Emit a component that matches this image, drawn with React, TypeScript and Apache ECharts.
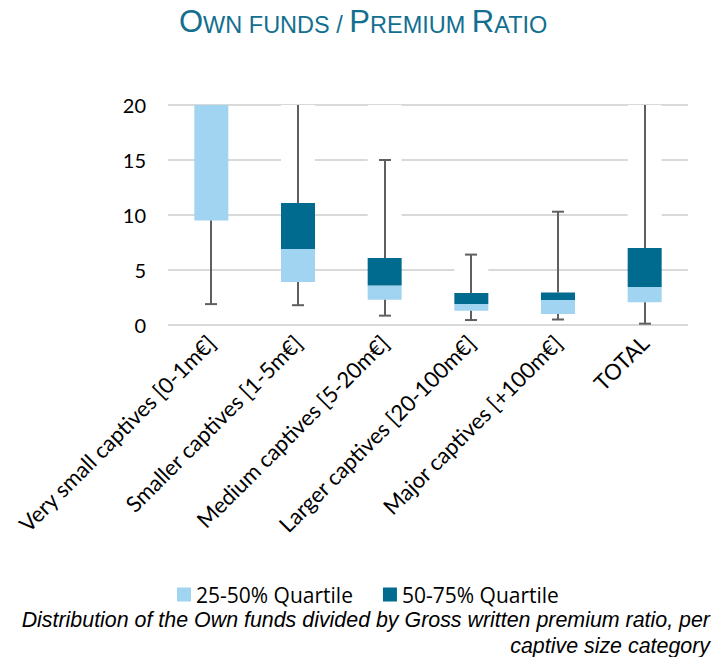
import React, { useEffect, useRef } from "react";
import * as echarts from "echarts";

const categories = [
  "Very small captives [0-1m€]",
  "Smaller captives [1-5m€]",
  "Medium captives [5-20m€]",
  "Larger captives [20-100m€]",
  "Major captives [+100m€]",
  "TOTAL",
];
const minValues = [1.9, 1.8, 0.85, 0.45, 0.5, 0.12];
const q1Values = [9.5, 3.9, 2.3, 1.3, 1.0, 2.06];
const medianValues = [20, 6.9, 3.6, 1.9, 2.27, 3.45];
const q3Values = [20, 11.1, 6.1, 2.9, 2.95, 7.0];
const maxValues = [20, 20, 15, 6.4, 10.3, 20];
// white (invisible) segment above Q3 that hides the gridlines in the original
const maskTopValues = [20, 20, 20, 7, 2.95, 20];
const yTicks = { min: 0, max: 20, interval: 5 };
const captionLines = [
  "Distribution of the Own funds divided by Gross written premium ratio, per",
  "captive size category",
];

const LIGHT = "#A0D4F0";
const DARK = "#006B8F";
const WHISKER = "#5F5F5F";
const TITLE = "#136F8F";

export default function App() {
  const ref = useRef<HTMLDivElement>(null);
  useEffect(() => {
    if (!ref.current) return;
    const chart = echarts.init(ref.current, undefined, { renderer: "svg" });
    const whiskerData = categories.map((_, i) => [
      i,
      minValues[i],
      maxValues[i],
      q1Values[i],
      q3Values[i],
    ]);
    const big = {
      fontSize: 31,
      fontWeight: "normal",
      fontFamily: "Liberation Sans",
      color: TITLE,
      verticalAlign: "bottom",
      lineHeight: 36,
    };
    const small = { ...big, fontSize: 23.5 };
    chart.setOption({
      animation: false,
      title: {
        text: "{b|O}{s|WN FUNDS / }{b|P}{s|REMIUM }{b|R}{s|ATIO}",
        left: 174,
        top: -4,
        textStyle: { fontWeight: "normal", rich: { b: big, s: small } },
      },
      legend: {
        data: ["25-50% Quartile", "50-75% Quartile"],
        left: 172,
        top: 579,
        icon: "rect",
        itemWidth: 14,
        itemHeight: 14,
        itemGap: 30,
        textStyle: { fontFamily: "Open Sans", fontSize: 21, color: "#000" },
      },
      grid: { left: 168, right: 33, top: 105, bottom: 332 },
      xAxis: {
        type: "category",
        data: categories,
        axisLine: { show: false },
        axisTick: { show: false },
        axisLabel: {
          rotate: 45,
          interval: 0,
          fontFamily: "Lato",
          fontSize: 22,
          color: "#000",
          margin: 14,
        },
      },
      yAxis: {
        type: "value",
        min: yTicks.min,
        max: yTicks.max,
        interval: yTicks.interval,
        axisLine: { show: false },
        axisTick: { show: false },
        axisLabel: {
          fontFamily: "Lato",
          fontSize: 20,
          color: "#000",
          margin: 22,
        },
        splitLine: { lineStyle: { color: "#D9D9D9", width: 2 } },
      },
      graphic: captionLines.map((line, k) => ({
        type: "text",
        x: 710,
        y: 620 + k * 26,
        style: {
          text: line,
          align: "right",
          verticalAlign: "middle",
          fontFamily: "Liberation Sans",
          fontStyle: "italic",
          fontSize: 21.4,
          fill: "#000",
        },
      })),
      series: [
        {
          name: "base",
          type: "bar",
          stack: "box",
          barWidth: 34,
          silent: true,
          itemStyle: { color: "transparent" },
          data: q1Values,
          z: 2,
        },
        {
          name: "25-50% Quartile",
          type: "bar",
          stack: "box",
          barWidth: 34,
          itemStyle: { color: LIGHT },
          data: medianValues.map((m, i) => +(m - q1Values[i]).toFixed(3)),
          z: 4,
        },
        {
          name: "50-75% Quartile",
          type: "bar",
          stack: "box",
          barWidth: 34,
          itemStyle: { color: DARK },
          data: q3Values.map((q, i) => +(q - medianValues[i]).toFixed(3)),
          z: 4,
        },
        {
          name: "mask",
          type: "bar",
          stack: "box",
          barWidth: 34,
          silent: true,
          itemStyle: { color: "#FFFFFF" },
          data: maskTopValues.map((t, i) => +(t - q3Values[i]).toFixed(3)),
          z: 2,
        },
        {
          name: "whiskers",
          type: "custom",
          z: 5,
          silent: true,
          data: whiskerData,
          renderItem: (params: any, api: any) => {
            const i = api.value(0);
            const lo = api.value(1);
            const hi = api.value(2);
            const q1 = api.value(3);
            const q3 = api.value(4);
            const pLo = api.coord([i, lo]);
            const pQ1 = api.coord([i, q1]);
            const pQ3 = api.coord([i, q3]);
            const pHi = api.coord([i, Math.min(hi, yTicks.max)]);
            const x = Math.round(pLo[0]);
            const capHalf = 6;
            const style = { stroke: WHISKER, lineWidth: 2 };
            const children: any[] = [];
            if (lo < q1) {
              children.push({
                type: "line",
                shape: { x1: x, y1: pLo[1], x2: x, y2: pQ1[1] },
                style,
              });
              children.push({
                type: "line",
                shape: { x1: x - capHalf, y1: pLo[1], x2: x + capHalf, y2: pLo[1] },
                style,
              });
            }
            if (hi > q3) {
              children.push({
                type: "line",
                shape: { x1: x, y1: pQ3[1], x2: x, y2: pHi[1] },
                style,
              });
              if (hi < yTicks.max) {
                children.push({
                  type: "line",
                  shape: { x1: x - capHalf, y1: pHi[1], x2: x + capHalf, y2: pHi[1] },
                  style,
                });
              }
            }
            return { type: "group", children };
          },
        },
      ],
    });
    return () => chart.dispose();
  }, []);
  return (
    <div
      ref={ref}
      style={{ position: "absolute", left: 0, top: 0, width: 721, height: 657 }}
    />
  );
}
